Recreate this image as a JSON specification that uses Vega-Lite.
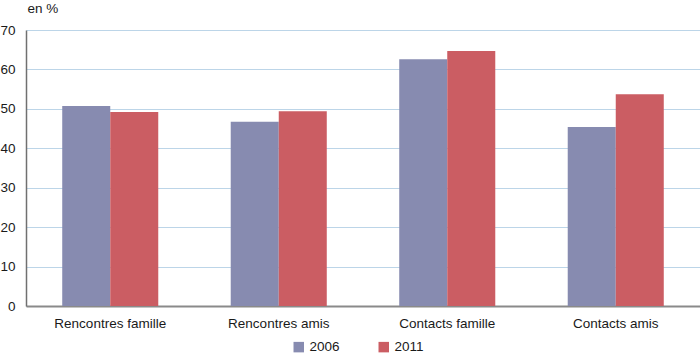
{
  "$schema": "https://vega.github.io/schema/vega-lite/v6.json",
  "width": 674,
  "height": 276,
  "autosize": {"type": "none"},
  "padding": {"left": 26, "top": 30, "right": 0, "bottom": 48},
  "background": "white",
  "config": {
    "view": {"stroke": null},
    "font": "Liberation Sans"
  },
  "data": {
    "values": [
      {"cat": "Rencontres famille", "year": "2006", "v": 50.7},
      {"cat": "Rencontres famille", "year": "2011", "v": 49.2},
      {"cat": "Rencontres amis", "year": "2006", "v": 46.7},
      {"cat": "Rencontres amis", "year": "2011", "v": 49.4},
      {"cat": "Contacts famille", "year": "2006", "v": 62.6},
      {"cat": "Contacts famille", "year": "2011", "v": 64.7},
      {"cat": "Contacts amis", "year": "2006", "v": 45.4},
      {"cat": "Contacts amis", "year": "2011", "v": 53.7}
    ]
  },
  "mark": {"type": "bar"},
  "encoding": {
    "x": {
      "field": "cat",
      "type": "nominal",
      "sort": null,
      "scale": {"paddingInner": 0.43, "paddingOuter": 0.215},
      "axis": {
        "title": null,
        "labelAngle": 0,
        "labelFontSize": 13.5,
        "labelColor": "#1a1a1a",
        "labelPadding": 10,
        "ticks": false,
        "domainColor": "#8a8a8a",
        "domainWidth": 2
      }
    },
    "xOffset": {"field": "year", "type": "nominal"},
    "y": {
      "field": "v",
      "type": "quantitative",
      "scale": {"domain": [0, 70], "nice": false},
      "axis": {
        "values": [0, 10, 20, 30, 40, 50, 60, 70],
        "title": "en %",
        "titleAngle": 0,
        "titleX": 1,
        "titleY": -18,
        "titleAlign": "left",
        "titleBaseline": "alphabetic",
        "titleFontSize": 13.5,
        "titleFontWeight": "normal",
        "titleColor": "#1a1a1a",
        "labelFontSize": 13.5,
        "labelColor": "#1a1a1a",
        "labelPadding": 11,
        "ticks": false,
        "domainColor": "#707070",
        "domainWidth": 1.5,
        "gridColor": "#bcd5e8",
        "gridWidth": 1.2
      }
    },
    "color": {
      "field": "year",
      "type": "nominal",
      "scale": {"domain": ["2006", "2011"], "range": ["#878bb0", "#cb5d63"]},
      "legend": {
        "title": null,
        "orient": "none",
        "legendX": 266,
        "legendY": 310,
        "direction": "horizontal",
        "symbolType": "square",
        "symbolSize": 110,
        "symbolStrokeWidth": 0,
        "labelFontSize": 13.5,
        "labelColor": "#1a1a1a",
        "labelOffset": 4,
        "columnPadding": 37
      }
    }
  }
}
